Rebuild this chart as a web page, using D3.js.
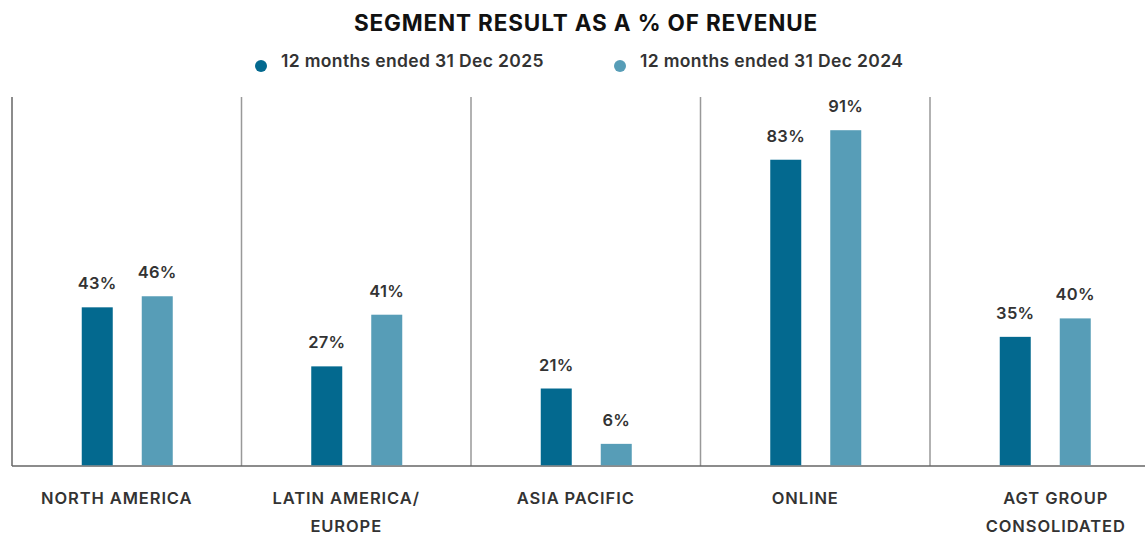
<!DOCTYPE html>
<html>
<head>
<meta charset="utf-8">
<script src="https://cdn.jsdelivr.net/npm/d3@7"></script>
<style>
  body { margin: 0; background: #fff; }
  svg text { font-family: "Inter", "Open Sans", sans-serif; fill: #333; }
</style>
</head>
<body>
<div id="chart"></div>
<script>
var categories = [
  ["NORTH AMERICA"],
  ["LATIN AMERICA/", "EUROPE"],
  ["ASIA PACIFIC"],
  ["ONLINE"],
  ["AGT GROUP", "CONSOLIDATED"]
];
var series = ["12 months ended 31 Dec 2025", "12 months ended 31 Dec 2024"];
var values2025 = [43, 27, 21, 83, 35];
var values2024 = [46, 41, 6, 91, 40];
var colors = ["#03698f", "#579db7"];

var width = 1145, height = 535;
var margin = {top: 97, left: 12, bottom: 69};
var bandW = 229.5;

var svg = d3.select("#chart").append("svg")
    .attr("width", width)
    .attr("height", height);

var x = d3.scaleBand()
    .domain(d3.range(categories.length))
    .range([margin.left, margin.left + bandW * categories.length])
    .padding(0);

var x1 = d3.scaleBand()
    .domain([0, 1])
    .range([-45, 46])
    .paddingInner(0.4833)
    .paddingOuter(0);

var y = d3.scaleLinear()
    .domain([0, 100])
    .range([height - margin.bottom, margin.top]);

// title
svg.append("text")
    .attr("x", 586)
    .attr("y", 31)
    .attr("text-anchor", "middle")
    .style("font-size", "22.5px")
    .style("font-weight", "bold")
    .style("letter-spacing", "0.85px")
    .style("fill", "#111")
    .text("SEGMENT RESULT AS A % OF REVENUE");

// legend
var legend = svg.selectAll(".legend")
    .data(series)
  .enter().append("g")
    .attr("class", "legend")
    .attr("transform", function(d, i) { return "translate(" + (261 + i * 359) + ",65)"; });

legend.append("circle")
    .attr("r", 6)
    .attr("cy", 1)
    .style("fill", function(d, i) { return colors[i]; });

legend.append("text")
    .attr("x", 20)
    .attr("dy", "0.1em")
    .style("font-size", "17.5px")
    .style("font-weight", 600)
    .style("letter-spacing", "0.35px")
    .text(function(d) { return d; });

// separators
svg.selectAll(".sep")
    .data(d3.range(1, categories.length))
  .enter().append("line")
    .attr("class", "sep")
    .attr("x1", function(i) { return x(i); })
    .attr("x2", function(i) { return x(i); })
    .attr("y1", y(100))
    .attr("y2", y(0))
    .style("stroke", "#999")
    .style("stroke-width", 1.5);

// left axis and baseline
svg.append("line")
    .attr("x1", margin.left).attr("x2", margin.left)
    .attr("y1", y(100)).attr("y2", y(0))
    .style("stroke", "#666").style("stroke-width", 1.5);
svg.append("line")
    .attr("x1", margin.left).attr("x2", width)
    .attr("y1", y(0)).attr("y2", y(0))
    .style("stroke", "#666").style("stroke-width", 1.5);

var groups = svg.selectAll(".group")
    .data(categories)
  .enter().append("g")
    .attr("class", "group")
    .attr("transform", function(d, i) { return "translate(" + (x(i) + x.bandwidth() / 2) + ",0)"; });

var bars = groups.selectAll(".bar")
    .data(function(d, i) { return [values2025[i], values2024[i]]; })
  .enter();

bars.append("rect")
    .attr("x", function(d, j) { return x1(j); })
    .attr("width", x1.bandwidth())
    .attr("y", function(d) { return y(d); })
    .attr("height", function(d) { return y(0) - y(d) - 0.75; })
    .style("fill", function(d, j) { return colors[j]; });

bars.append("text")
    .attr("x", function(d, j) { return x1(j) + x1.bandwidth() / 2; })
    .attr("y", function(d) { return y(d) - 18; })
    .attr("text-anchor", "middle")
    .style("font-size", "16.5px")
    .style("font-weight", 600)
    .style("letter-spacing", "0.3px")
    .text(function(d) { return d + "%"; });

// category labels
groups.append("text")
    .attr("text-anchor", "middle")
    .attr("transform", function(d, i) { return "translate(" + (i === categories.length - 1 ? 11 : -10) + ",0)"; })
    .style("font-size", "16.5px")
    .style("font-weight", 600)
    .style("letter-spacing", "0.9px")
    .selectAll("tspan")
    .data(function(d) { return d; })
  .enter().append("tspan")
    .attr("x", 0)
    .attr("y", function(d, k) { return 504 + k * 27.5; })
    .text(function(d) { return d; });
</script>
</body>
</html>
